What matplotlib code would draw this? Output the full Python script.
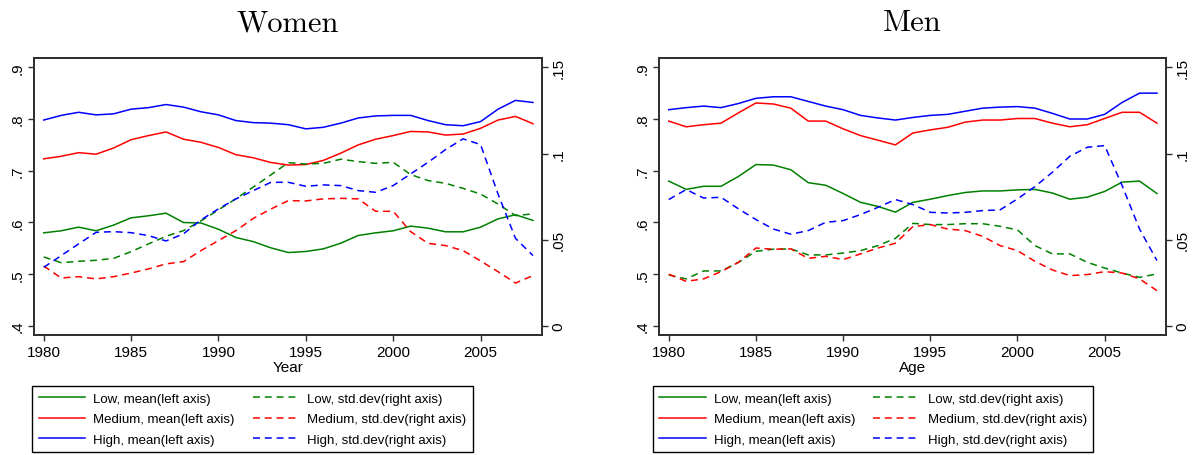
import matplotlib
matplotlib.use('Agg')
from matplotlib import pyplot as plt
from matplotlib.lines import Line2D

plt.rcParams['font.family'] = ['Liberation Sans', 'DejaVu Sans']
plt.rcParams['lines.scale_dashes'] = False

years = list(range(1980, 2009))

# women, mean (left axis)
w_low_mean = [0.580, 0.584, 0.591, 0.584, 0.595, 0.609, 0.613, 0.618, 0.600, 0.599,
              0.587, 0.571, 0.563, 0.551, 0.542, 0.544, 0.549, 0.560, 0.575, 0.580,
              0.584, 0.593, 0.589, 0.582, 0.582, 0.591, 0.607, 0.615, 0.604]
w_med_mean = [0.723, 0.728, 0.735, 0.732, 0.744, 0.760, 0.768, 0.775, 0.761, 0.755,
              0.745, 0.731, 0.725, 0.716, 0.711, 0.712, 0.720, 0.734, 0.750, 0.761,
              0.768, 0.776, 0.775, 0.769, 0.771, 0.782, 0.798, 0.805, 0.791]
w_high_mean = [0.798, 0.807, 0.813, 0.808, 0.810, 0.819, 0.822, 0.828, 0.823, 0.814,
               0.808, 0.797, 0.793, 0.792, 0.789, 0.781, 0.784, 0.792, 0.802, 0.806,
               0.807, 0.807, 0.797, 0.789, 0.787, 0.795, 0.819, 0.836, 0.832]
# women, std.dev (right axis)
w_low_sd = [0.0400, 0.0367, 0.0375, 0.0381, 0.0392, 0.0431, 0.0476, 0.0520, 0.0553, 0.0609,
            0.0673, 0.0738, 0.0806, 0.0876, 0.0947, 0.0939, 0.0943, 0.0967, 0.0953, 0.0943,
            0.0949, 0.0878, 0.0843, 0.0827, 0.0798, 0.0765, 0.0707, 0.0640, 0.0650]
w_med_sd = [0.0348, 0.0278, 0.0286, 0.0273, 0.0286, 0.0307, 0.0331, 0.0360, 0.0373, 0.0437,
            0.0495, 0.0553, 0.0624, 0.0678, 0.0727, 0.0725, 0.0737, 0.0740, 0.0737, 0.0665,
            0.0665, 0.0547, 0.0479, 0.0466, 0.0437, 0.0377, 0.0315, 0.0249, 0.0292]
w_high_sd = [0.0340, 0.0408, 0.0476, 0.0543, 0.0547, 0.0541, 0.0524, 0.0493, 0.0534, 0.0615,
             0.0679, 0.0737, 0.0785, 0.0833, 0.0833, 0.0810, 0.0818, 0.0814, 0.0785, 0.0775,
             0.0814, 0.0882, 0.0949, 0.1023, 0.1085, 0.1052, 0.0765, 0.0508, 0.0408]

# men, mean (left axis)
m_low_mean = [0.680, 0.664, 0.670, 0.670, 0.689, 0.712, 0.711, 0.702, 0.677, 0.672,
              0.656, 0.639, 0.631, 0.620, 0.639, 0.645, 0.652, 0.658, 0.661, 0.661,
              0.663, 0.664, 0.657, 0.645, 0.649, 0.660, 0.678, 0.680, 0.656]
m_med_mean = [0.796, 0.785, 0.789, 0.792, 0.812, 0.831, 0.829, 0.821, 0.796, 0.796,
              0.781, 0.768, 0.759, 0.750, 0.773, 0.779, 0.784, 0.794, 0.798, 0.798,
              0.801, 0.801, 0.792, 0.785, 0.789, 0.801, 0.813, 0.813, 0.792]
m_high_mean = [0.818, 0.822, 0.825, 0.822, 0.830, 0.840, 0.843, 0.843, 0.834, 0.825,
               0.818, 0.807, 0.802, 0.798, 0.803, 0.807, 0.809, 0.815, 0.821, 0.823,
               0.824, 0.821, 0.811, 0.800, 0.800, 0.809, 0.832, 0.850, 0.850]
# men, std.dev (right axis)
m_low_sd = [0.0296, 0.0273, 0.0319, 0.0319, 0.0369, 0.0433, 0.0445, 0.0447, 0.0412, 0.0412,
            0.0423, 0.0437, 0.0466, 0.0508, 0.0595, 0.0588, 0.0588, 0.0593, 0.0593, 0.0578,
            0.0557, 0.0466, 0.0418, 0.0418, 0.0369, 0.0336, 0.0307, 0.0282, 0.0302]
m_med_sd = [0.0300, 0.0259, 0.0273, 0.0315, 0.0369, 0.0452, 0.0445, 0.0447, 0.0392, 0.0404,
            0.0385, 0.0418, 0.0452, 0.0480, 0.0576, 0.0588, 0.0562, 0.0553, 0.0520, 0.0466,
            0.0437, 0.0375, 0.0325, 0.0292, 0.0298, 0.0315, 0.0307, 0.0273, 0.0205]
m_high_sd = [0.0733, 0.0791, 0.0742, 0.0746, 0.0679, 0.0617, 0.0562, 0.0532, 0.0553, 0.0601,
             0.0611, 0.0646, 0.0688, 0.0733, 0.0704, 0.0659, 0.0655, 0.0659, 0.0669, 0.0673,
             0.0737, 0.0808, 0.0891, 0.0984, 0.1036, 0.1046, 0.0814, 0.0562, 0.0379]

# legend fills column by column: means first, then std.devs
labels = ['Low, mean(left axis)', 'Medium, mean(left axis)', 'High, mean(left axis)',
          'Low, std.dev(right axis)', 'Medium, std.dev(right axis)', 'High, std.dev(right axis)']
colors = ['#008000', '#ff0000', '#0000ff']
dash = (5, 3.5)
lw = 1.1
edge = '#303030'


def panel(rect, title, xlabel, means, sds, legend_center):
    ax = fig.add_axes(rect)
    ax2 = ax.twinx()
    for m, s, c in zip(means, sds, colors):
        ax.plot(years, m, color=c, lw=lw)
        ax2.plot(years, s, color=c, lw=lw, dashes=dash)
    ax.set_xlim(1979.46, 2008.5)
    ax.set_ylim(0.3826, 0.918)
    ax2.set_ylim(-0.00522, 0.1554)
    ax.set_xticks([1980, 1985, 1990, 1995, 2000, 2005])
    ax.set_yticks([0.4, 0.5, 0.6, 0.7, 0.8, 0.9])
    ax.set_yticklabels(['.4', '.5', '.6', '.7', '.8', '.9'], rotation=90, va='center')
    ax2.set_yticks([0, 0.05, 0.1, 0.15])
    ax2.set_yticklabels(['0', '.05', '.1', '.15'], rotation=90, va='center')
    for a in (ax, ax2):
        for sp in a.spines.values():
            sp.set_color(edge)
            sp.set_linewidth(1.3)
        a.tick_params(length=4, width=1, color=edge, labelsize=11, pad=3)
    ax.set_title(title, fontsize=22, family='cmr10', pad=20)
    ax.set_xlabel(xlabel, fontsize=11, labelpad=1)

    handles = [Line2D([], [], color=c, lw=lw) for c in colors]
    handles += [Line2D([], [], color=c, lw=lw, dashes=dash) for c in colors]
    fig.legend(handles, labels, ncol=2, loc='center', bbox_to_anchor=legend_center,
               fontsize=9.5, frameon=True, fancybox=False, edgecolor='black',
               handlelength=3.5, handletextpad=0.6, columnspacing=1.4,
               labelspacing=0.62, borderpad=0.5, framealpha=1)


fig = plt.figure(figsize=(11.94, 4.56), dpi=100)
panel([0.0287, 0.2632, 0.425, 0.6075], 'Women', 'Year',
      [w_low_mean, w_med_mean, w_high_mean], [w_low_sd, w_med_sd, w_high_sd],
      (0.2115, 0.0789))
panel([0.5522, 0.2632, 0.4241, 0.6075], 'Men', 'Age',
      [m_low_mean, m_med_mean, m_high_mean], [m_low_sd, m_med_sd, m_high_sd],
      (0.7312, 0.0789))

fig.savefig('out.png', dpi=100)
